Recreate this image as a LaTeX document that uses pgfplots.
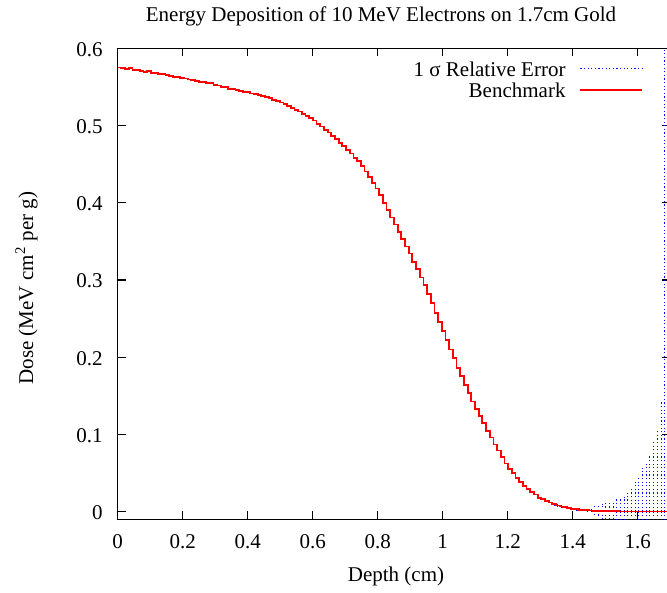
\documentclass[border=0pt]{standalone}
\usepackage{fontspec}
\setmainfont{Liberation Serif}
\usepackage{pgfplots}
\usepackage{pgfplotstable}
\pgfplotsset{compat=1.18}
\usetikzlibrary{calc}
\newcommand\fs{\fontsize{10.5bp}{12bp}\selectfont}

% benchmark dose, left edge of each bin (150 bins on 0..1.7 cm)
\pgfplotstableread{
x y
0.0000 0.5750
0.0113 0.5747
0.0227 0.5734
0.0340 0.5740
0.0453 0.5722
0.0567 0.5718
0.0680 0.5710
0.0793 0.5698
0.0907 0.5701
0.1020 0.5684
0.1133 0.5679
0.1247 0.5668
0.1360 0.5663
0.1473 0.5651
0.1587 0.5646
0.1700 0.5633
0.1813 0.5627
0.1927 0.5614
0.2040 0.5609
0.2153 0.5596
0.2267 0.5590
0.2380 0.5581
0.2493 0.5568
0.2607 0.5563
0.2720 0.5548
0.2833 0.5552
0.2947 0.5528
0.3060 0.5519
0.3173 0.5503
0.3287 0.5494
0.3400 0.5478
0.3513 0.5471
0.3627 0.5456
0.3740 0.5450
0.3853 0.5436
0.3967 0.5430
0.4080 0.5414
0.4193 0.5407
0.4307 0.5392
0.4420 0.5384
0.4533 0.5365
0.4647 0.5354
0.4760 0.5333
0.4873 0.5322
0.4987 0.5299
0.5100 0.5279
0.5213 0.5250
0.5327 0.5231
0.5440 0.5204
0.5553 0.5181
0.5667 0.5150
0.5780 0.5126
0.5893 0.5095
0.6007 0.5065
0.6120 0.5023
0.6233 0.4988
0.6347 0.4946
0.6460 0.4911
0.6573 0.4864
0.6687 0.4825
0.6800 0.4777
0.6913 0.4738
0.7027 0.4685
0.7140 0.4638
0.7253 0.4584
0.7367 0.4537
0.7480 0.4474
0.7593 0.4406
0.7707 0.4329
0.7820 0.4261
0.7933 0.4184
0.8047 0.4097
0.8160 0.3998
0.8273 0.3908
0.8387 0.3810
0.8500 0.3720
0.8613 0.3622
0.8727 0.3532
0.8840 0.3434
0.8953 0.3343
0.9067 0.3237
0.9180 0.3139
0.9293 0.3033
0.9407 0.2935
0.9520 0.2817
0.9633 0.2701
0.9747 0.2577
0.9860 0.2460
0.9973 0.2337
1.0087 0.2223
1.0200 0.2101
1.0313 0.1987
1.0427 0.1866
1.0540 0.1759
1.0653 0.1646
1.0767 0.1542
1.0880 0.1428
1.0993 0.1331
1.1107 0.1235
1.1220 0.1146
1.1333 0.1048
1.1447 0.0960
1.1560 0.0870
1.1673 0.0792
1.1787 0.0705
1.1900 0.0624
1.2013 0.0553
1.2127 0.0500
1.2240 0.0439
1.2353 0.0387
1.2467 0.0332
1.2580 0.0297
1.2693 0.0258
1.2807 0.0223
1.2920 0.0183
1.3033 0.0161
1.3147 0.0138
1.3260 0.0119
1.3373 0.0096
1.3487 0.0081
1.3600 0.0068
1.3713 0.0058
1.3827 0.0047
1.3940 0.0037
1.4053 0.0031
1.4167 0.0027
1.4280 0.0023
1.4393 0.0018
1.4507 0.0015
1.4620 0.0013
1.4733 0.0011
1.4847 0.0009
1.4960 0.0007
1.5073 0.0006
1.5187 0.0006
1.5300 0.0005
1.5413 0.0004
1.5527 0.0004
1.5640 0.0004
1.5753 0.0003
1.5867 0.0003
1.5980 0.0003
1.6093 0.0003
1.6207 0.0003
1.6320 0.0003
1.6433 0.0003
1.6547 0.0003
1.6660 0.0003
1.6773 0.0003
1.6887 0.0003
1.7000 0.0003
}\bench

% 1 sigma error, bin centres (only the tail where it shows)
\pgfplotstableread{
x y e
1.3430 0.0096 0.0016
1.3543 0.0081 0.0017
1.3657 0.0068 0.0018
1.3770 0.0058 0.0018
1.3883 0.0047 0.0019
1.3997 0.0037 0.0020
1.4110 0.0031 0.0022
1.4223 0.0027 0.0025
1.4337 0.0023 0.0028
1.4450 0.0018 0.0035
1.4563 0.0015 0.0045
1.4677 0.0013 0.0055
1.4790 0.0011 0.0060
1.4903 0.0009 0.0095
1.5017 0.0007 0.0115
1.5130 0.0006 0.0125
1.5243 0.0006 0.0130
1.5357 0.0005 0.0165
1.5470 0.0004 0.0186
1.5583 0.0004 0.0190
1.5697 0.0004 0.0240
1.5810 0.0003 0.0315
1.5923 0.0003 0.0400
1.6037 0.0003 0.0450
1.6150 0.0003 0.0565
1.6263 0.0003 0.0620
1.6377 0.0003 0.0740
1.6490 0.0003 0.0900
1.6603 0.0003 0.1060
1.6717 0.0003 0.1420
1.6830 0.0003 0.7000
1.6943 0.0003 0.7000
}\errs

\begin{document}
\begin{tikzpicture}[font=\fs]
\begin{axis}[
    scale only axis,
    width=276.25bp, height=235.6bp,
    xmin=0, xmax=1.7, ymin=-0.01, ymax=0.6,
    xtick={0,0.2,0.4,0.6,0.8,1,1.2,1.4,1.6},
    ytick={0,0.1,0.2,0.3,0.4,0.5,0.6},
    /pgf/number format/assume math mode=true,
    tick label style={font=\fs},
    xticklabel style={anchor=base, inner sep=0pt, yshift=-14.4bp},
    yticklabel style={anchor=east, inner sep=0pt, xshift=-7.35bp, yshift=-0.5bp},
    tick align=inside,
    major tick length=4bp,
    every tick/.style={black, line width=0.6bp},
    axis line style={line width=0.6bp},
    title={Energy Deposition of 10 MeV Electrons on 1.7cm Gold},
    every axis title/.style={at={(axis description cs:0.4766,1)}, anchor=base, yshift=13.15bp, font=\fs},
    xlabel={Depth (cm)},
    every axis x label/.style={at={(axis description cs:0.5037,0)}, anchor=base, yshift=-31.25bp, font=\fs},
    ylabel={Dose (MeV cm\textsuperscript{2} per g)},
    every axis y label/.style={at={(axis description cs:-0.1531,0.491)}, rotate=90, anchor=base, font=\fs},
    legend style={draw=none, fill=none, at={(axis description cs:0.9513,0.973)}, anchor=north east,
        inner sep=0pt, outer sep=0pt, row sep=1.15bp, column sep=7bp, font=\fs,
        nodes={inner sep=0pt, text height=7.5bp, text depth=2bp}},
    legend cell align=right,
    legend plot pos=right,
  ]
  \addplot[blue, only marks, mark=text, text mark={},
    legend image code/.code={\draw[blue, line width=0.5bp, dash pattern=on 0.6bp off 1.2bp] (0bp,1bp) -- (31bp,1bp);},
    error bars/.cd, y dir=both, y explicit, error mark=none,
    error bar style={blue, line width=0.5bp, dash pattern=on 0.6bp off 1.2bp}]
    table[x=x, y=y, y error=e] {\errs};
  \addlegendentry{1 σ Relative Error}
  \addplot[red, line width=0.9bp, const plot,
    legend image code/.code={\draw[red, line width=0.9bp] (0bp,1bp) -- (31bp,1bp);}]
    table[x=x, y=y] {\bench};
  \addlegendentry{Benchmark}
\end{axis}
\pgfresetboundingbox
\path ($(current axis.south west)+(-58.85bp,-36.75bp)$) rectangle ($(current axis.north east)+(-1.6bp,24.15bp)$);
\end{tikzpicture}
\end{document}
